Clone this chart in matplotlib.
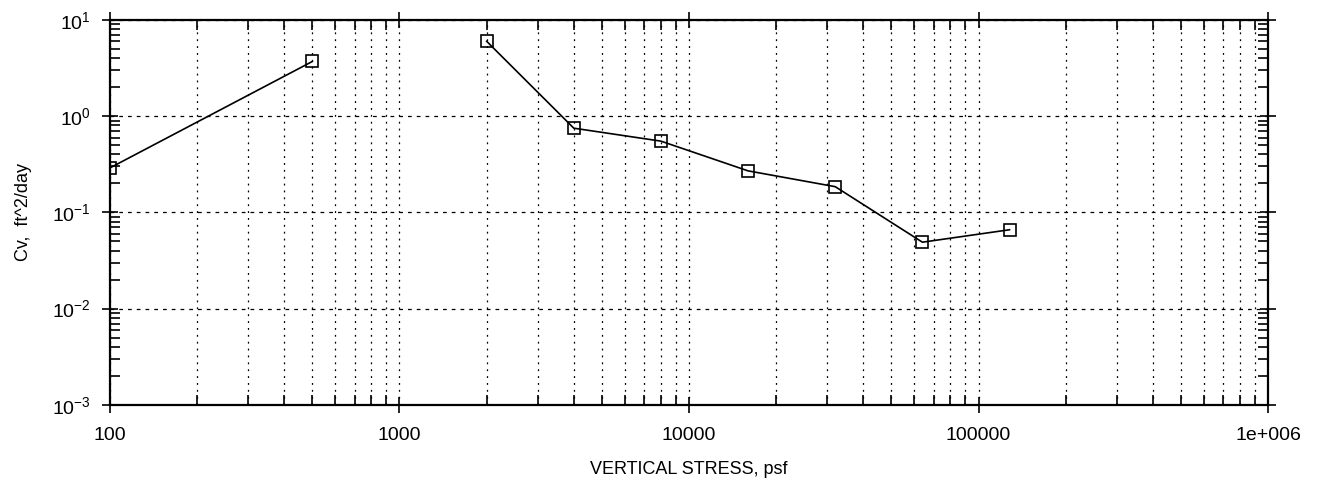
import numpy as np
import matplotlib
matplotlib.use("Agg")
import matplotlib.pyplot as plt
from matplotlib.ticker import LogLocator, NullFormatter, FixedLocator

plt.rcParams['font.family'] = ['Liberation Sans', 'DejaVu Sans']

stress = [100, 500, 1000, 2000, 4000, 8000, 16000, 32000, 64000, 128000]
cv = [0.29, 3.7, np.nan, 6.0, 0.75, 0.55, 0.27, 0.185, 0.049, 0.066]
xtick_vals = [100, 1000, 10000, 100000, 1000000]
xtick_labels = ["100", "1000", "10000", "100000", "1e+006"]

fig = plt.figure(figsize=(13.25, 4.86), dpi=100)
ax = fig.add_axes([0.083, 0.167, 0.874, 0.792])
ax.set_xscale('log')
ax.set_yscale('log')
ax.set_xlim(100, 1e6)
ax.set_ylim(1e-3, 1e1)

ax.plot(stress, cv, color='black', lw=1.2, marker='s', markersize=8,
        markerfacecolor='none', markeredgecolor='black', markeredgewidth=1.2)

ax.xaxis.set_major_locator(FixedLocator(xtick_vals))
ax.set_xticklabels(xtick_labels)
ax.xaxis.set_minor_locator(LogLocator(base=10, subs=np.arange(2, 10)))
ax.xaxis.set_minor_formatter(NullFormatter())
ax.yaxis.set_major_locator(LogLocator(base=10, numticks=10))
ax.yaxis.set_minor_locator(LogLocator(base=10, subs=np.arange(2, 10), numticks=20))
ax.yaxis.set_minor_formatter(NullFormatter())

ax.grid(True, which='both', axis='x', linestyle=(0, (1.5, 4)), color='black', lw=0.9)
ax.grid(True, which='major', axis='y', linestyle=(0, (3, 4)), color='black', lw=0.9)

ax.tick_params(which='major', direction='inout', length=12, width=1.2,
               top=True, right=True, labelsize=14)
ax.tick_params(axis='x', which='major', pad=10)
ax.tick_params(axis='y', which='major', pad=8)
ax.tick_params(which='minor', direction='in', length=7, width=1.2, top=True, right=True)
for s in ax.spines.values():
    s.set_linewidth(1.6)

ax.set_xlabel("VERTICAL STRESS, psf", fontsize=13, labelpad=12)
ax.set_ylabel("Cv,  ft^2/day", fontsize=13, labelpad=14)

fig.savefig("out.png", dpi=100)
